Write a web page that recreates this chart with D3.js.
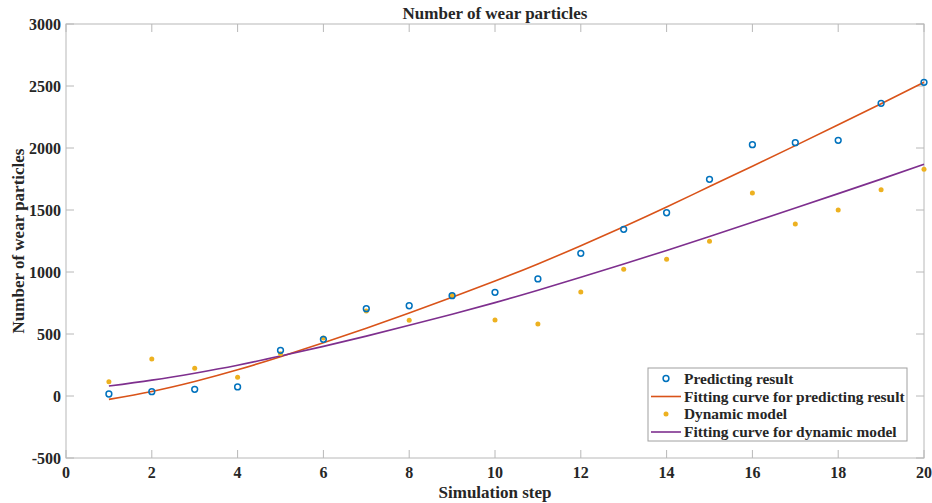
<!DOCTYPE html>
<html><head><meta charset="utf-8">
<script src="https://cdn.jsdelivr.net/npm/d3@7"></script>
<style>body{margin:0;background:#fff}svg{display:block}</style>
</head><body><svg id="c" width="932" height="503"></svg>
<script>
const steps = [1,2,3,4,5,6,7,8,9,10,11,12,13,14,15,16,17,18,19,20];
const predicting = [16,35,54,73,368,457,704,728,809,836,944,1151,1344,1478,1747,2027,2043,2062,2360,2530];
const dynamicModel = [115,298,223,151,340,468,685,610,812,613,581,839,1022,1102,1248,1637,1387,1500,1664,1828];
const fitPredicting = [-27,37,117,211,317,429,547,669,796,927,1065,1212,1365,1524,1689,1853,2019,2187,2357,2530];
const fitDynamic = [80,128,184,248,322,400,483,570,660,753,853,957,1064,1174,1287,1401,1516,1632,1749,1868];
const xTicks = [0,2,4,6,8,10,12,14,16,18,20];
const yTicks = [-500,0,500,1000,1500,2000,2500,3000];
const legendLabels = ["Predicting result","Fitting curve for predicting result","Dynamic model","Fitting curve for dynamic model"];
const colors = {blue:"#0072BD", orange:"#D95319", yellow:"#EDB120", purple:"#7E2F8E"};

const FONT = "Liberation Serif, DejaVu Serif, serif";
const svg = d3.select("#c");
const L=66, R=924, T=24, B=458;
const x = d3.scaleLinear().domain([0,20]).range([L,R]);
const y = d3.scaleLinear().domain([-500,3000]).range([B,T]);
const axisCol = "#b8b8b8";
const tl = 8;

function txt(sel){ return sel.append("text").attr("font-family",FONT).attr("font-weight","bold").attr("fill","#262626"); }

const g = svg.append("g");
g.append("rect").attr("x",L).attr("y",T).attr("width",R-L).attr("height",B-T)
  .attr("fill","none").attr("stroke",axisCol).attr("stroke-width",1);
xTicks.forEach(t=>{
  g.append("line").attr("x1",x(t)).attr("x2",x(t)).attr("y1",B).attr("y2",B-tl).attr("stroke",axisCol);
  g.append("line").attr("x1",x(t)).attr("x2",x(t)).attr("y1",T).attr("y2",T+tl).attr("stroke",axisCol);
  txt(g).attr("x",x(t)).attr("y",478).attr("text-anchor","middle").attr("font-size",16).text(t);
});
yTicks.forEach(t=>{
  g.append("line").attr("x1",L).attr("x2",L+tl).attr("y1",y(t)).attr("y2",y(t)).attr("stroke",axisCol);
  g.append("line").attr("x1",R).attr("x2",R-tl).attr("y1",y(t)).attr("y2",y(t)).attr("stroke",axisCol);
  txt(g).attr("x",61).attr("y",y(t)).attr("dy","0.35em").attr("text-anchor","end").attr("font-size",16).text(t);
});

txt(svg).attr("x",(L+R)/2).attr("y",19).attr("text-anchor","middle").attr("font-size",17).text("Number of wear particles");
txt(svg).attr("x",(L+R)/2).attr("y",498).attr("text-anchor","middle").attr("font-size",17).text("Simulation step");
txt(svg).attr("transform",`translate(24,${(T+B)/2}) rotate(-90)`).attr("text-anchor","middle").attr("font-size",17).text("Number of wear particles");

const line = d3.line().x((d,i)=>x(steps[i])).y(d=>y(d)).curve(d3.curveNatural);
svg.append("path").attr("d",line(fitPredicting)).attr("fill","none").attr("stroke",colors.orange).attr("stroke-width",1.6);
svg.append("path").attr("d",line(fitDynamic)).attr("fill","none").attr("stroke",colors.purple).attr("stroke-width",1.6);

svg.append("g").selectAll("circle").data(dynamicModel).join("circle")
  .attr("cx",(d,i)=>x(steps[i])).attr("cy",d=>y(d)).attr("r",2.5).attr("fill",colors.yellow);
svg.append("g").selectAll("circle").data(predicting).join("circle")
  .attr("cx",(d,i)=>x(steps[i])).attr("cy",d=>y(d)).attr("r",2.9).attr("fill","none")
  .attr("stroke",colors.blue).attr("stroke-width",1.5);

const lg = svg.append("g");
lg.append("rect").attr("x",648).attr("y",368).attr("width",259).attr("height",73)
  .attr("fill","#fff").attr("stroke","#a0a0a0").attr("stroke-width",1);
const ys = [378.5,396.5,414,432];
legendLabels.forEach((lab,i)=>{
  const yy = ys[i];
  if(i===0) lg.append("circle").attr("cx",666).attr("cy",yy).attr("r",2.9).attr("fill","none").attr("stroke",colors.blue).attr("stroke-width",1.5);
  if(i===2) lg.append("circle").attr("cx",666).attr("cy",yy).attr("r",2.5).attr("fill",colors.yellow);
  if(i===1) lg.append("line").attr("x1",651).attr("x2",681).attr("y1",yy).attr("y2",yy).attr("stroke",colors.orange).attr("stroke-width",1.6);
  if(i===3) lg.append("line").attr("x1",651).attr("x2",681).attr("y1",yy).attr("y2",yy).attr("stroke",colors.purple).attr("stroke-width",1.6);
  txt(lg).attr("x",684).attr("y",yy).attr("dy","0.35em").attr("font-size",15.4).text(lab);
});
</script></body></html>
